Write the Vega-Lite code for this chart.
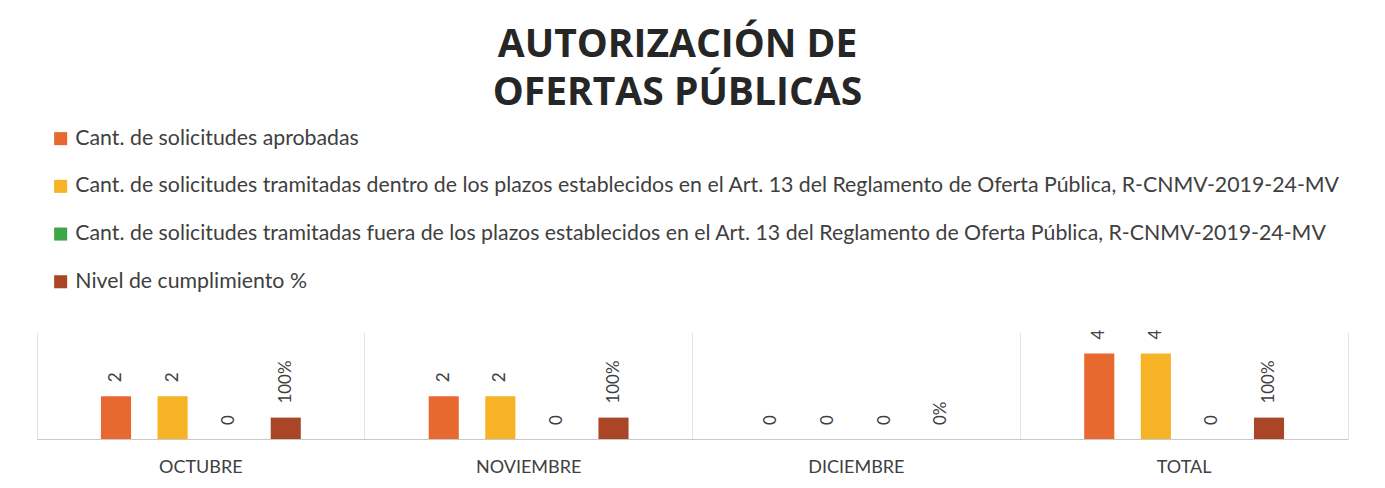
{
  "$schema": "https://vega.github.io/schema/vega-lite/v6.json",
  "width": 1311,
  "height": 107,
  "autosize": {"type": "none"},
  "padding": {"left": 37, "top": 332, "right": 37, "bottom": 49},
  "background": "white",
  "title": {
    "text": ["AUTORIZACIÓN DE", "OFERTAS PÚBLICAS"],
    "font": "Open Sans",
    "fontSize": 39,
    "fontWeight": "bold",
    "color": "#262626",
    "lineHeight": 48,
    "anchor": "middle",
    "frame": "group",
    "dx": -15,
    "offset": 15
  },
  "config": {
    "view": {"stroke": null},
    "legend": {
      "orient": "none",
      "legendX": 13,
      "legendY": -204,
      "title": null,
      "symbolType": "square",
      "symbolSize": 170,
      "labelFont": "Lato",
      "labelFontSize": 21.3,
      "labelColor": "#404040",
      "labelLimit": 0,
      "labelOffset": 4,
      "rowPadding": 25.7,
      "symbolStrokeWidth": 0
    }
  },
  "data": {
    "values": [
      {"mes": "OCTUBRE", "serie": "Cant. de solicitudes aprobadas", "valor": 2, "etiqueta": "2"},
      {"mes": "OCTUBRE", "serie": "Cant. de solicitudes tramitadas dentro de los plazos establecidos en el Art. 13 del Reglamento de Oferta Pública, R-CNMV-2019-24-MV", "valor": 2, "etiqueta": "2"},
      {"mes": "OCTUBRE", "serie": "Cant. de solicitudes tramitadas fuera de los plazos establecidos en el Art. 13 del Reglamento de Oferta Pública, R-CNMV-2019-24-MV", "valor": 0, "etiqueta": "0"},
      {"mes": "OCTUBRE", "serie": "Nivel de cumplimiento %", "valor": 1, "etiqueta": "100%"},
      {"mes": "NOVIEMBRE", "serie": "Cant. de solicitudes aprobadas", "valor": 2, "etiqueta": "2"},
      {"mes": "NOVIEMBRE", "serie": "Cant. de solicitudes tramitadas dentro de los plazos establecidos en el Art. 13 del Reglamento de Oferta Pública, R-CNMV-2019-24-MV", "valor": 2, "etiqueta": "2"},
      {"mes": "NOVIEMBRE", "serie": "Cant. de solicitudes tramitadas fuera de los plazos establecidos en el Art. 13 del Reglamento de Oferta Pública, R-CNMV-2019-24-MV", "valor": 0, "etiqueta": "0"},
      {"mes": "NOVIEMBRE", "serie": "Nivel de cumplimiento %", "valor": 1, "etiqueta": "100%"},
      {"mes": "DICIEMBRE", "serie": "Cant. de solicitudes aprobadas", "valor": 0, "etiqueta": "0"},
      {"mes": "DICIEMBRE", "serie": "Cant. de solicitudes tramitadas dentro de los plazos establecidos en el Art. 13 del Reglamento de Oferta Pública, R-CNMV-2019-24-MV", "valor": 0, "etiqueta": "0"},
      {"mes": "DICIEMBRE", "serie": "Cant. de solicitudes tramitadas fuera de los plazos establecidos en el Art. 13 del Reglamento de Oferta Pública, R-CNMV-2019-24-MV", "valor": 0, "etiqueta": "0"},
      {"mes": "DICIEMBRE", "serie": "Nivel de cumplimiento %", "valor": 0, "etiqueta": "0%"},
      {"mes": "TOTAL", "serie": "Cant. de solicitudes aprobadas", "valor": 4, "etiqueta": "4"},
      {"mes": "TOTAL", "serie": "Cant. de solicitudes tramitadas dentro de los plazos establecidos en el Art. 13 del Reglamento de Oferta Pública, R-CNMV-2019-24-MV", "valor": 4, "etiqueta": "4"},
      {"mes": "TOTAL", "serie": "Cant. de solicitudes tramitadas fuera de los plazos establecidos en el Art. 13 del Reglamento de Oferta Pública, R-CNMV-2019-24-MV", "valor": 0, "etiqueta": "0"},
      {"mes": "TOTAL", "serie": "Nivel de cumplimiento %", "valor": 1, "etiqueta": "100%"}
    ]
  },
  "encoding": {
    "x": {
      "field": "mes",
      "type": "nominal",
      "sort": ["OCTUBRE", "NOVIEMBRE", "DICIEMBRE", "TOTAL"],
      "scale": {"paddingInner": 0, "paddingOuter": 0}
    },
    "xOffset": {
      "field": "serie",
      "type": "nominal",
      "scale": {
        "domain": [
          " ",
          "Cant. de solicitudes aprobadas",
          "Cant. de solicitudes tramitadas dentro de los plazos establecidos en el Art. 13 del Reglamento de Oferta Pública, R-CNMV-2019-24-MV",
          "Cant. de solicitudes tramitadas fuera de los plazos establecidos en el Art. 13 del Reglamento de Oferta Pública, R-CNMV-2019-24-MV",
          "Nivel de cumplimiento %",
          "  "
        ],
        "paddingInner": 0.468,
        "paddingOuter": 0.13
      }
    },
    "y": {
      "field": "valor",
      "type": "quantitative",
      "scale": {"domain": [0, 5], "nice": false},
      "axis": null
    }
  },
  "layer": [
    {
      "mark": {"type": "bar"},
      "encoding": {
        "x": {
          "field": "mes",
          "type": "nominal",
          "sort": ["OCTUBRE", "NOVIEMBRE", "DICIEMBRE", "TOTAL"],
          "scale": {"paddingInner": 0, "paddingOuter": 0},
          "axis": {
            "title": null,
            "orient": "bottom",
            "labelAngle": 0,
            "labelFont": "Lato",
            "labelFontSize": 18,
            "labelColor": "#404040",
            "labelPadding": 19,
            "ticks": false,
            "grid": true,
            "gridColor": "#e4e4e4",
            "bandPosition": 0,
            "domainColor": "#c8c8c8",
            "domainWidth": 1.2
          }
        },
        "color": {
          "field": "serie",
          "type": "nominal",
          "sort": null,
          "scale": {
            "domain": [
              "Cant. de solicitudes aprobadas",
              "Cant. de solicitudes tramitadas dentro de los plazos establecidos en el Art. 13 del Reglamento de Oferta Pública, R-CNMV-2019-24-MV",
              "Cant. de solicitudes tramitadas fuera de los plazos establecidos en el Art. 13 del Reglamento de Oferta Pública, R-CNMV-2019-24-MV",
              "Nivel de cumplimiento %"
            ],
            "range": ["#E8692F", "#F5B325", "#3DA648", "#AB4527"]
          }
        }
      }
    },
    {
      "mark": {
        "type": "text",
        "angle": -90,
        "align": "left",
        "baseline": "middle",
        "dx": 14,
        "font": "Lato",
        "fontSize": 17,
        "color": "#404040"
      },
      "encoding": {
        "x": {
          "field": "mes",
          "type": "nominal",
          "sort": ["OCTUBRE", "NOVIEMBRE", "DICIEMBRE", "TOTAL"],
          "scale": {"paddingInner": 0, "paddingOuter": 0},
          "axis": {
            "title": null,
            "orient": "top",
            "labels": false,
            "ticks": false,
            "domain": false,
            "grid": true,
            "gridColor": "#e4e4e4",
            "bandPosition": 1
          }
        },
        "text": {"field": "etiqueta"}
      }
    }
  ],
  "resolve": {"axis": {"x": "independent"}}
}
